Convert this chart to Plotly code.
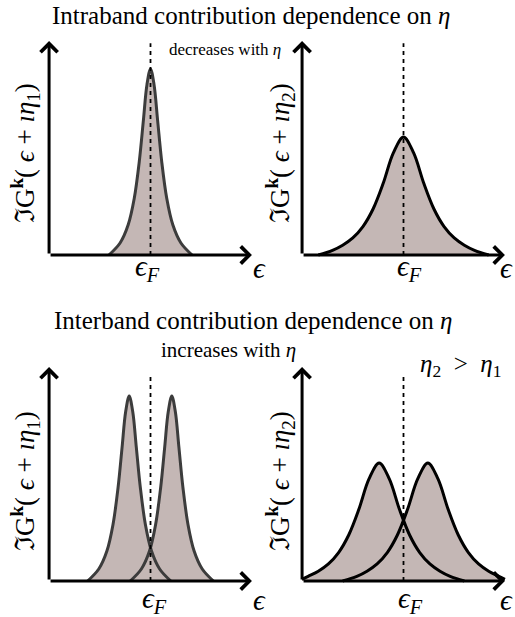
import plotly.graph_objects as go

W, H = 515, 617

# ---- data (x = energy relative to eps_F, y = spectral weight) ----
intra1_x = [-0.41, -0.30, -0.22, -0.16, -0.11, -0.07, -0.035, 0, 0.035, 0.07, 0.11, 0.16, 0.22, 0.30, 0.41]
intra1_y = [0, 0.056, 0.141, 0.265, 0.439, 0.630, 0.796, 0.869, 0.796, 0.630, 0.439, 0.265, 0.141, 0.056, 0]

intra2_x = [-0.84, -0.7, -0.6, -0.5, -0.4, -0.3, -0.2, -0.1, 0, 0.1, 0.2, 0.3, 0.4, 0.5, 0.6, 0.7, 0.84]
intra2_y = [0, 0.022, 0.046, 0.080, 0.133, 0.215, 0.335, 0.477, 0.551, 0.477, 0.335, 0.215, 0.133, 0.080, 0.046, 0.022, 0]

inter1a_x = [-0.62, -0.51, -0.43, -0.37, -0.32, -0.28, -0.245, -0.21, -0.175, -0.14, -0.10, -0.05, 0.01, 0.09, 0.20]
inter1b_x = [-0.20, -0.09, -0.01, 0.05, 0.10, 0.14, 0.175, 0.21, 0.245, 0.28, 0.32, 0.37, 0.43, 0.51, 0.62]
inter1_y = [0, 0.056, 0.140, 0.263, 0.436, 0.626, 0.791, 0.864, 0.791, 0.626, 0.436, 0.263, 0.140, 0.056, 0]

inter2a_x = [-1.0, -0.94, -0.84, -0.74, -0.64, -0.54, -0.44, -0.34, -0.24, -0.14, -0.04, 0.06, 0.16, 0.26, 0.36, 0.46, 0.60]
inter2a_y = [0.008, 0.022, 0.046, 0.080, 0.133, 0.215, 0.335, 0.477, 0.551, 0.477, 0.335, 0.215, 0.133, 0.080, 0.046, 0.022, 0]
inter2b_x = [-0.60, -0.46, -0.36, -0.26, -0.16, -0.06, 0.04, 0.14, 0.24, 0.34, 0.44, 0.54, 0.64, 0.74, 0.84, 0.94, 1.0]
inter2b_y = [0, 0.022, 0.046, 0.080, 0.133, 0.215, 0.335, 0.477, 0.551, 0.477, 0.335, 0.215, 0.133, 0.080, 0.046, 0.022, 0.008]

titles = ["Intraband contribution dependence on <i>η</i>",
          "Interband contribution dependence on <i>η</i>"]
notes = ["decreases with <i>η</i>", "increases with <i>η</i>", "<i>η</i><sub>2</sub>  >  <i>η</i><sub>1</sub>"]
ylabels = ["ℑG<sup><b>k</b></sup>( <i>ϵ</i> + <i>ıη</i><sub>1</sub>)",
           "ℑG<sup><b>k</b></sup>( <i>ϵ</i> + <i>ıη</i><sub>2</sub>)"]
xlabel = "<i>ϵ</i>"
fermi_label = "<i>ϵ</i><sub><i>F</i></sub>"

FILL = "rgb(196,183,181)"
GREY = "rgb(60,60,60)"
FONT = "Liberation Serif, DejaVu Serif, serif"

XR = [-1.05, 1.05]
YR = [-0.05, 1.05]

# panel pixel boxes: (left, right, top, bottom) of the axis area incl. padding
panels = [
    (44, 257, 30.3, 265.7),
    (297, 510, 30.3, 265.7),
    (44, 257, 356.3, 591.7),
    (297, 510, 356.3, 591.7),
]

fig = go.Figure()
layout = dict(width=W, height=H, margin=dict(l=0, r=0, t=0, b=0),
              paper_bgcolor="white", plot_bgcolor="rgba(0,0,0,0)",
              showlegend=False, font=dict(family=FONT, color="black"))
for i, (l, r, t, b) in enumerate(panels):
    n = "" if i == 0 else str(i + 1)
    layout["xaxis" + n] = dict(domain=[l / W, r / W], range=XR, visible=False, anchor="y" + n)
    layout["yaxis" + n] = dict(domain=[1 - b / H, 1 - t / H], range=YR, visible=False, anchor="x" + n)
fig.update_layout(**layout)

curves = [
    (0, [(intra1_x, intra1_y)], GREY),
    (1, [(intra2_x, intra2_y)], "black"),
    (2, [(inter1a_x, inter1_y), (inter1b_x, inter1_y)], GREY),
    (3, [(inter2a_x, inter2a_y), (inter2b_x, inter2b_y)], "black"),
]

for idx, series, col in curves:
    xa = "x" if idx == 0 else "x" + str(idx + 1)
    ya = "y" if idx == 0 else "y" + str(idx + 1)
    for xs, ys in series:
        fig.add_trace(go.Scatter(x=xs, y=ys, xaxis=xa, yaxis=ya, mode="lines",
                                 line=dict(width=0, shape="spline", smoothing=1.0),
                                 fill="tozeroy", fillcolor=FILL, hoverinfo="skip"))
    for xs, ys in series:
        fig.add_trace(go.Scatter(x=xs, y=ys, xaxis=xa, yaxis=ya, mode="lines",
                                 line=dict(width=3, color=col, shape="spline", smoothing=1.0),
                                 hoverinfo="skip"))

shapes = []
annotations = []
dash_top = [0.99, 0.99, 0.972, 0.972]
for i in range(4):
    xa = "x" if i == 0 else "x" + str(i + 1)
    ya = "y" if i == 0 else "y" + str(i + 1)
    # dashed eps_F line
    shapes.append(dict(type="line", xref=xa, yref=ya, x0=0, x1=0, y0=0, y1=dash_top[i],
                       line=dict(color="black", width=1.8, dash="4px,4px")))
    # axes with arrows
    for (x, y, ax, ay) in [(1.0, 0, -1.0, 0), (-1.0, 1.0, -1.0, 0)]:
        annotations.append(dict(xref=xa, yref=ya, axref=xa, ayref=ya, x=x, y=y, ax=ax, ay=ay,
                                text="", showarrow=True, arrowhead=4, arrowwidth=3,
                                arrowsize=1.1, arrowcolor="black", standoff=0, startstandoff=0))


def ptext(text, px, py, size, angle=0):
    annotations.append(dict(xref="paper", yref="paper", x=px / W, y=1 - py / H, text=text,
                            showarrow=False, xanchor="center", yanchor="middle",
                            textangle=angle, font=dict(size=size, family=FONT, color="black")))


ptext(titles[0], 251, 16, 25)
ptext(titles[1], 253, 320, 25)
ptext(notes[0], 225, 49, 17)
ptext(notes[1], 228, 350, 21)
ptext(notes[2], 460, 366, 25)
ptext(ylabels[0], 25, 153, 27, -90)
ptext(ylabels[1], 280, 153, 27, -90)
ptext(ylabels[0], 25, 481, 27, -90)
ptext(ylabels[1], 280, 481, 27, -90)
for (fx, fy) in [(148, 268), (409, 268), (154, 600), (410, 600)]:
    ptext(fermi_label, fx, fy, 29)
for (ex, ey) in [(259, 268), (506, 268), (259, 600), (506, 600)]:
    ptext(xlabel, ex, ey, 29)

fig.update_layout(shapes=shapes, annotations=annotations)
fig.write_html("out.html")
